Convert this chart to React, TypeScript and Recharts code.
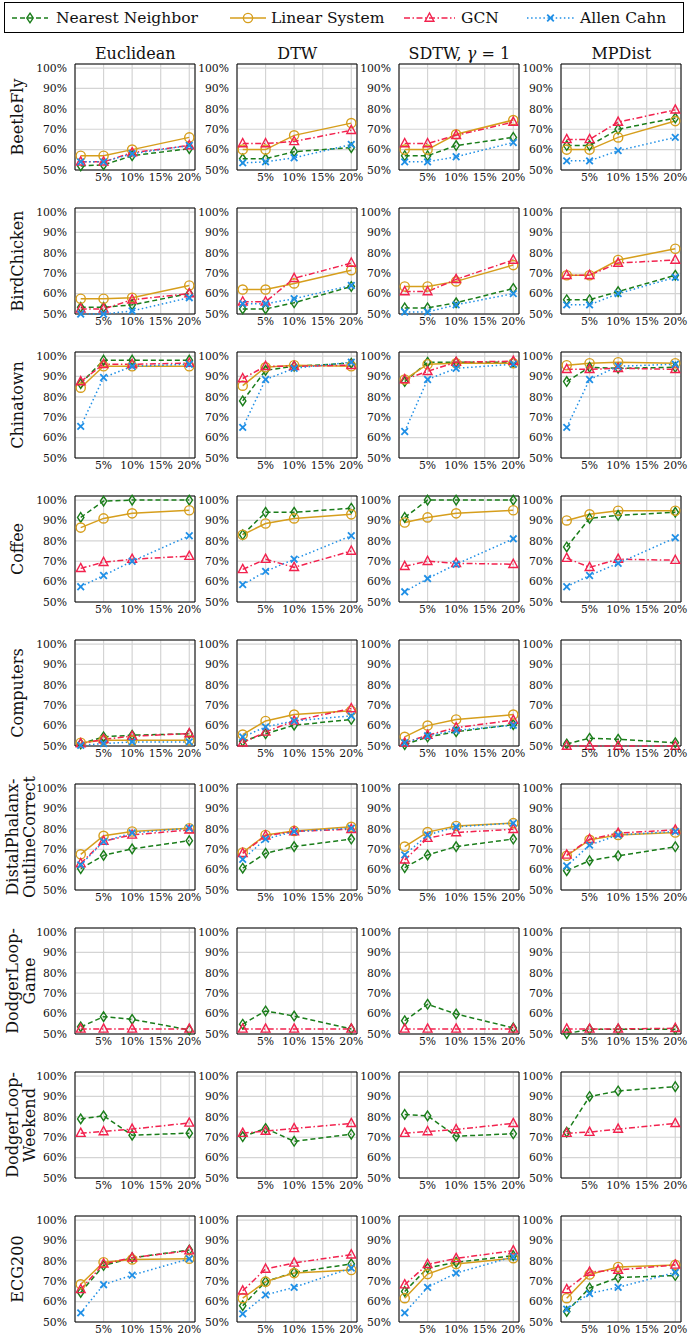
import { CartesianGrid, Line, LineChart, ReferenceArea, XAxis, YAxis } from 'recharts'

// share of labelled points (x axis) and accuracy in % (y axis)
const LABEL_FRACTIONS = [1, 5, 10, 20]
const X_TICKS = [5, 10, 15, 20]
const Y_TICKS = [50, 60, 70, 80, 90, 100]

const METRICS = ['Euclidean', 'DTW', 'SDTW', 'MPDist']
const DATASETS = [
  ['BeetleFly'],
  ['BirdChicken'],
  ['Chinatown'],
  ['Coffee'],
  ['Computers'],
  ['DistalPhalanx-', 'OutlineCorrect'],
  ['DodgerLoop-', 'Game'],
  ['DodgerLoop-', 'Weekend'],
  ['ECG200'],
]

// each row: [Euclidean, DTW, SDTW, MPDist], null = not plotted
const BEETLEFLY_NN = [[52, 52.5, 57, 60.5], [55.5, 55.5, 59, 61], [57, 57, 62, 66], [62, 62, 70, 75.5]]
const BEETLEFLY_LS = [[57, 57, 60, 66], [60, 60, 67, 73], [60, 60, 67.5, 74.5], [60, 60, 66, 74]]
const BEETLEFLY_GCN = [[54, 54, 58.5, 62], [63, 63, 64, 69.5], [63, 63, 67, 73.5], [65, 65, 73.5, 79.5]]
const BEETLEFLY_AC = [[54, 54, 58, 62], [53.5, 54, 56, 62.5], [54, 54, 56.5, 63.5], [54.5, 54.5, 59.5, 66]]

const BIRDCHICKEN_NN = [[53.3, 53.3, 54.5, 60], [52.5, 52.5, 55.5, 63.5], [53, 53, 55.5, 62.5], [57, 57, 61, 69]]
const BIRDCHICKEN_LS = [[57.5, 57.5, 58, 64], [62, 62, 65, 71.5], [63.5, 63.5, 66, 74], [69, 69, 76.5, 82]]
const BIRDCHICKEN_GCN = [[52.5, 52.5, 57, 60], [56, 56, 67.5, 75], [61, 61, 67, 76.5], [69, 69, 75, 76.5]]
const BIRDCHICKEN_AC = [[50, 50, 51.5, 58], [55, 55, 57.5, 64], [51, 51, 54.5, 60], [54.5, 54.5, 60, 68]]

const CHINATOWN_NN = [[86.5, 98, 98, 98], [78, 93, 95, 96.5], [87.5, 97, 97, 97], [87.5, 94.5, 94, 94.5]]
const CHINATOWN_LS = [[84.5, 95, 95, 95], [85.5, 94.5, 95.5, 95], [88.5, 96, 96.5, 96.5], [95.5, 96.5, 97, 96.5]]
const CHINATOWN_GCN = [[87.5, 96, 96, 96.5], [89, 95, 95, 95.5], [88.5, 92.5, 97, 97.5], [93.5, 93.5, 94, 93.5]]
const CHINATOWN_AC = [[65.5, 89.5, 95, 96], [65, 88.5, 94, 97], [63, 88.5, 94, 96], [65, 88.5, 95, 96]]

const COFFEE_NN = [[91.5, 99.5, 100, 100], [83, 94, 94, 96], [91.5, 100, 100, 100], [77, 91, 92.5, 94]]
const COFFEE_LS = [[86.5, 91, 93.5, 95], [83, 88.5, 91, 93], [89, 91.5, 93.5, 95], [90, 93, 94.8, 94.8]]
const COFFEE_GCN = [[66.5, 69.5, 71, 72.5], [66, 71, 67, 75], [67.5, 70, 69, 68.5], [71.5, 67, 71, 70.5]]
const COFFEE_AC = [[57.5, 63, 70, 82.5], [58.5, 65, 71, 82.5], [55, 61.5, 68.5, 81], [57.5, 63, 69, 81.5]]

const COMPUTERS_NN = [[51, 54.5, 55.3, 56], [52.3, 56, 60.2, 63], [50.7, 54.4, 57, 60.5], [51, 53.8, 53.3, 51.6]]
const COMPUTERS_LS = [[51.6, 52.8, 52.8, 52.8], [55.6, 62.3, 65.4, 67.3], [54.5, 60, 63, 65.4], null]
const COMPUTERS_GCN = [[51.2, 53.3, 54.8, 56.1], [51.6, 56.9, 62.3, 68.4], [51.6, 55.3, 59, 62.7], [50, 50, 50, 50]]
const COMPUTERS_AC = [[50.3, 51.2, 52, 52], [54.4, 59.4, 62.3, 64.8], [51.6, 55, 57.7, 60.2], null]

const DISTAL_NN = [[60.5, 67, 70.2, 74.2], [60.7, 68, 71.3, 75], [61, 67.2, 71.3, 75], [59.5, 64.4, 66.8, 71.2]]
const DISTAL_LS = [[67.5, 76.6, 78.7, 80.3], [68.4, 77, 79, 81], [71.3, 78.4, 81.4, 82.8], [66.8, 74.6, 77, 78.2]]
const DISTAL_GCN = [[63, 74, 77, 79.5], [68, 76.6, 78.7, 79.8], [64.8, 75.4, 78.2, 79.8], [67.2, 74.9, 77.9, 79.5]]
const DISTAL_AC = [[62.3, 73.8, 78, 80.3], [65, 75, 78.7, 80.3], [67.2, 77, 81, 82.8], [61.8, 72, 77, 78.7]]

const DODGER_GAME_NN = [[53.5, 58.5, 57.2, 52], [54.8, 61.3, 58.8, 52.5], [56.5, 64.6, 59.8, 53], [50.2, 52.3, 52.3, 52.3]]
const DODGER_GAME_GCN = [[52.5, 52.5, 52.5, 52.5], [52.5, 52.5, 52.5, 52.5], [52.5, 52.5, 52.5, 52.5], [52.5, 52.5, 52.5, 52.8]]

const DODGER_WEEKEND_NN = [[79, 80.5, 71, 72], [70.3, 74.3, 68, 71.5], [81.2, 80.5, 70.5, 71.7], [72.5, 90, 92.7, 94.8]]
const DODGER_WEEKEND_GCN = [[72, 72.8, 74, 77], [72, 73, 74.3, 76.8], [72, 72.8, 73.8, 76.8], [72, 72.5, 74, 76.8]]

const ECG200_NN = [[64.5, 77.7, 81.5, 85.3], [58, 69.8, 74.3, 78.5], [65, 76.5, 79.3, 82.5], [55.2, 66.7, 71.8, 72.8]]
const ECG200_LS = [[68.5, 79.3, 80.7, 81], [61.7, 69.8, 74, 75.5], [61.7, 73.5, 78.5, 81.3], [61.7, 73.3, 77, 78]]
const ECG200_GCN = [[66, 78.5, 81.5, 85], [65.3, 76, 79, 83], [68.3, 78.3, 81.2, 85], [66, 74.5, 75.5, 78]]
const ECG200_AC = [[54.5, 68.3, 73, 81], [54, 63.3, 67, 76.5], [54.5, 67, 74, 82], [56.3, 64, 67, 74.3]]

const NONE = [null, null, null, null]

const NN_ROWS = [BEETLEFLY_NN, BIRDCHICKEN_NN, CHINATOWN_NN, COFFEE_NN, COMPUTERS_NN, DISTAL_NN, DODGER_GAME_NN, DODGER_WEEKEND_NN, ECG200_NN]
const LS_ROWS = [BEETLEFLY_LS, BIRDCHICKEN_LS, CHINATOWN_LS, COFFEE_LS, COMPUTERS_LS, DISTAL_LS, NONE, NONE, ECG200_LS]
const GCN_ROWS = [BEETLEFLY_GCN, BIRDCHICKEN_GCN, CHINATOWN_GCN, COFFEE_GCN, COMPUTERS_GCN, DISTAL_GCN, DODGER_GAME_GCN, DODGER_WEEKEND_GCN, ECG200_GCN]
const AC_ROWS = [BEETLEFLY_AC, BIRDCHICKEN_AC, CHINATOWN_AC, COFFEE_AC, COMPUTERS_AC, DISTAL_AC, NONE, NONE, ECG200_AC]

const SERIES = [
  { key: 'nn', name: 'Nearest Neighbor', rows: NN_ROWS, color: '#1a7d1a', dash: '5 3', marker: 'diamond' },
  { key: 'ls', name: 'Linear System', rows: LS_ROWS, color: '#d69e1c', dash: undefined, marker: 'circle' },
  { key: 'gcn', name: 'GCN', rows: GCN_ROWS, color: '#f2224e', dash: '6 2.5 1.5 2.5', marker: 'triangle' },
  { key: 'ac', name: 'Allen Cahn', rows: AC_ROWS, color: '#1f8fe6', dash: '1.5 2.6', marker: 'cross' },
]

const FONT = '"DejaVu Serif", serif'

// geometry of the grid of panels
const PANEL_LEFT = 75.3
const COL_STEP = 162
const PANEL_TOP = 64.3
const ROW_STEP = 144
const PLOT_W = 120
const PLOT_H = 106
const Y_AXIS_W = 45
const TOP_PAD = 6
const RIGHT_PAD = 16
const X_AXIS_H = 16

function Marker({ kind, cx, cy, color }: { kind: string; cx: number; cy: number; color: string }) {
  if (cx == null || cy == null || isNaN(cx) || isNaN(cy)) return null
  if (kind === 'diamond')
    return (
      <polygon
        points={`${cx},${cy - 4.8} ${cx + 3.2},${cy} ${cx},${cy + 4.8} ${cx - 3.2},${cy}`}
        fill="none"
        stroke={color}
        strokeWidth={1.4}
      />
    )
  if (kind === 'circle') return <circle cx={cx} cy={cy} r={4.6} fill="none" stroke={color} strokeWidth={1.4} />
  if (kind === 'triangle')
    return (
      <polygon
        points={`${cx},${cy - 5} ${cx + 4.4},${cy + 3.2} ${cx - 4.4},${cy + 3.2}`}
        fill="none"
        stroke={color}
        strokeWidth={1.4}
      />
    )
  return (
    <g stroke={color} strokeWidth={1.8}>
      <line x1={cx - 3.3} y1={cy - 3.3} x2={cx + 3.3} y2={cy + 3.3} />
      <line x1={cx - 3.3} y1={cy + 3.3} x2={cx + 3.3} y2={cy - 3.3} />
    </g>
  )
}

const makeDot = (kind: string, color: string) => (props: any) => (
  <g key={`dot-${props.index}`}>
    <Marker kind={kind} cx={props.cx} cy={props.cy} color={color} />
  </g>
)

function Panel({ row, col }: { row: number; col: number }) {
  const data = LABEL_FRACTIONS.map((x, i) => {
    const point: Record<string, number | null> = { x }
    SERIES.forEach((s) => {
      const values = s.rows[row][col]
      point[s.key] = values ? values[i] : null
    })
    return point
  })
  const tick = { fill: '#111', fontSize: 10.8, fontFamily: FONT }
  return (
    <div
      style={{
        position: 'absolute',
        left: PANEL_LEFT + col * COL_STEP - Y_AXIS_W,
        top: PANEL_TOP + row * ROW_STEP - TOP_PAD,
      }}
    >
      <LineChart
        width={Y_AXIS_W + PLOT_W + RIGHT_PAD}
        height={TOP_PAD + PLOT_H + X_AXIS_H}
        data={data}
        margin={{ top: TOP_PAD, right: RIGHT_PAD, bottom: 0, left: 0 }}
        style={{ overflow: 'visible' }}
      >
        <CartesianGrid stroke="#d4d4d4" strokeWidth={1.2} />
        <XAxis
          dataKey="x"
          type="number"
          domain={[0, 21]}
          ticks={X_TICKS}
          tickFormatter={(v) => `${v}%`}
          tick={tick}
          tickLine={false}
          axisLine={false}
          tickSize={4}
          tickMargin={-1}
          height={X_AXIS_H}
          interval={0}
        />
        <YAxis
          type="number"
          domain={[50, 102]}
          ticks={Y_TICKS}
          tickFormatter={(v) => `${v}%`}
          tick={tick}
          tickLine={false}
          axisLine={false}
          width={Y_AXIS_W}
          interval={0}
        />
        <ReferenceArea x1={0} x2={21} y1={50} y2={102} fill="none" fillOpacity={0} stroke="#000" strokeWidth={1} />
        {SERIES.filter((s) => s.rows[row][col]).map((s) => (
          <Line
            key={s.key}
            dataKey={s.key}
            stroke={s.color}
            strokeWidth={1.5}
            strokeDasharray={s.dash}
            dot={makeDot(s.marker, s.color)}
            activeDot={false}
            isAnimationActive={false}
            connectNulls
          />
        ))}
      </LineChart>
    </div>
  )
}

function LegendBox() {
  const items = [
    { s: SERIES[0], left: 11, w: 36, text: 55 },
    { s: SERIES[1], left: 229, w: 36, text: 270 },
    { s: SERIES[2], left: 403, w: 51, text: 460 },
    { s: SERIES[3], left: 526, w: 47, text: 579 },
  ]
  return (
    <div
      style={{
        position: 'absolute',
        left: 4,
        top: 2,
        width: 680,
        height: 31,
        border: '1px solid #000',
        boxSizing: 'border-box',
      }}
    >
      {items.map(({ s, left, w, text }) => (
        <div key={s.key}>
          <svg style={{ position: 'absolute', left: left - 4, top: 4 }} width={w} height={22}>
            <line x1={0} y1={11} x2={w} y2={11} stroke={s.color} strokeWidth={1.5} strokeDasharray={s.dash} />
            <Marker kind={s.marker} cx={w / 2} cy={11} color={s.color} />
          </svg>
          <div
            style={{
              position: 'absolute',
              left: text - 4,
              top: 4,
              lineHeight: '22px',
              fontSize: 15.5,
              fontFamily: FONT,
              color: '#111',
              whiteSpace: 'nowrap',
            }}
          >
            {s.name}
          </div>
        </div>
      ))}
    </div>
  )
}

function MetricTitle({ name }: { name: string }) {
  if (name === 'SDTW')
    return (
      <span>
        SDTW, <i>γ</i> = 1
      </span>
    )
  return <span>{name}</span>
}

export default function App() {
  return (
    <div style={{ position: 'relative', width: 690, height: 1339, background: '#fff', overflow: 'hidden' }}>
      <style>{'body { margin: 0; background: #fff; }'}</style>
      <LegendBox />
      {METRICS.map((m, c) => (
        <div
          key={m}
          style={{
            position: 'absolute',
            left: PANEL_LEFT + c * COL_STEP + PLOT_W / 2,
            top: 52.7,
            transform: 'translate(-50%, -50%)',
            fontSize: 16,
            fontFamily: FONT,
            color: '#111',
            whiteSpace: 'nowrap',
          }}
        >
          <MetricTitle name={m} />
        </div>
      ))}
      {DATASETS.map((lines, r) => (
        <div
          key={lines.join('')}
          style={{
            position: 'absolute',
            left: lines.length > 1 ? 20.5 : 16.7,
            top: PANEL_TOP + r * ROW_STEP + PLOT_H / 2,
            transform: 'translate(-50%, -50%) rotate(-90deg)',
            fontSize: 16,
            lineHeight: '17px',
            fontFamily: FONT,
            color: '#111',
            whiteSpace: 'nowrap',
            textAlign: 'center',
          }}
        >
          {lines.map((l) => (
            <div key={l}>{l}</div>
          ))}
        </div>
      ))}
      {DATASETS.map((_, r) => METRICS.map((m, c) => <Panel key={`${r}-${c}`} row={r} col={c} />))}
    </div>
  )
}
